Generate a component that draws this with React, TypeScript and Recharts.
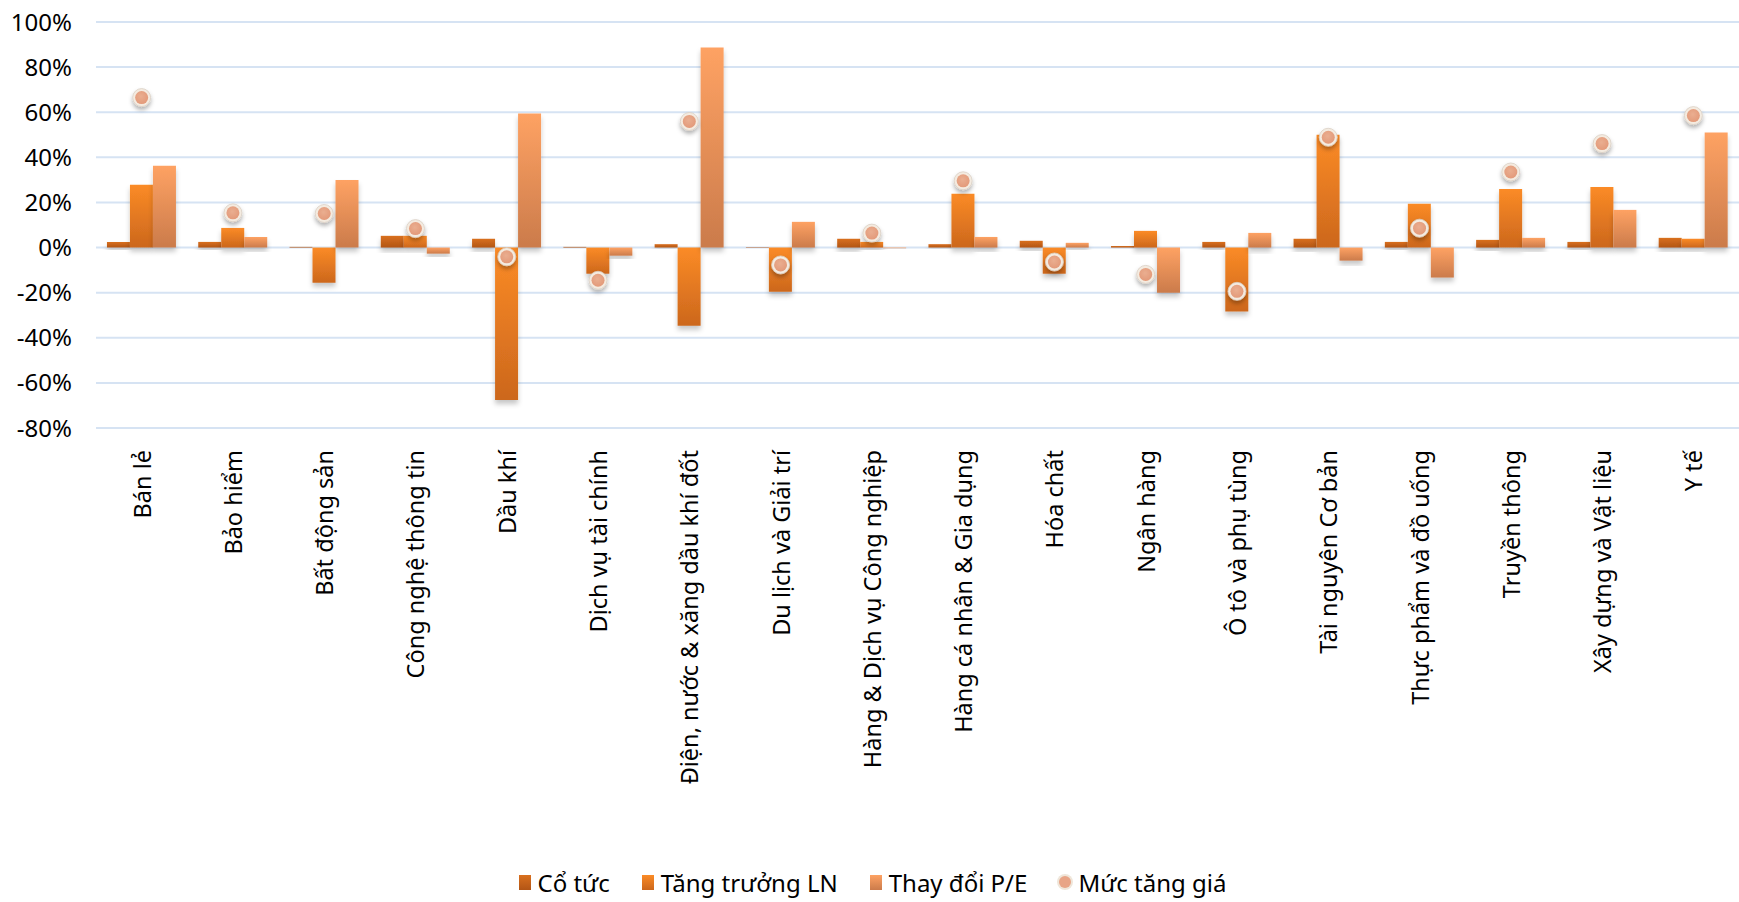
import React from 'react';
import {
  ComposedChart,
  Bar,
  Line,
  XAxis,
  YAxis,
  CartesianGrid,
  Legend,
} from 'recharts';

const sectors = [
  'Bán lẻ',
  'Bảo hiểm',
  'Bất động sản',
  'Công nghệ thông tin',
  'Dầu khí',
  'Dịch vụ tài chính',
  'Điện, nước & xăng dầu khí đốt',
  'Du lịch và Giải trí',
  'Hàng & Dịch vụ Công nghiệp',
  'Hàng cá nhân & Gia dụng',
  'Hóa chất',
  'Ngân hàng',
  'Ô tô và phụ tùng',
  'Tài nguyên Cơ bản',
  'Thực phẩm và đồ uống',
  'Truyền thông',
  'Xây dựng và Vật liệu',
  'Y tế',
];

const coTuc = [2.5, 2.5, 0.3, 5.2, 3.9, 0.3, 1.5, 0.2, 3.9, 1.5, 3.0, 0.7, 2.5, 3.9, 2.5, 3.4, 2.5, 4.3];
const tangTruongLN = [27.9, 8.7, -15.6, 5.2, -67.6, -11.6, -34.7, -19.6, 2.5, 23.9, -11.6, 7.4, -28.4, 50.0, 19.4, 26.0, 26.9, 3.9];
const thayDoiPE = [36.3, 4.7, 30.0, -2.7, 59.4, -3.6, 88.7, 11.4, -0.3, 4.7, 2.1, -20.0, 6.5, -5.8, -13.3, 4.3, 16.7, 51.0];
const mucTangGia = [66.5, 15.4, 15.1, 8.4, -4.1, -14.5, 55.9, -7.7, 6.4, 29.6, -6.4, -11.9, -19.4, 48.9, 8.6, 33.5, 46.1, 58.5];

const yTicks = [-80, -60, -40, -20, 0, 20, 40, 60, 80, 100];

const data = sectors.map((name, i) => ({
  name,
  coTuc: coTuc[i],
  tangTruong: tangTruongLN[i],
  pe: thayDoiPE[i],
  gia: mucTangGia[i],
}));

const FONT = '"Noto Sans", sans-serif';

const SectorTick = ({ x, y, payload }: any) => (
  <text
    x={x}
    y={y}
    transform={`rotate(-90, ${x}, ${y})`}
    textAnchor="end"
    dominantBaseline="central"
    fontSize={23.5}
    fontFamily={FONT}
    fill="#000"
  >
    {payload.value}
  </text>
);

const PriceDot = ({ cx, cy, index }: any) => {
  if (cx == null || cy == null) return null;
  return (
    <g key={`dot-${index}`} filter="url(#dotShadow)">
      <circle cx={cx} cy={cy} r={9} fill="#f4ebe0" stroke="#d9cfc4" strokeWidth={0.8} />
      <circle cx={cx} cy={cy} r={6.5} fill="url(#dotFill)" />
    </g>
  );
};

const legendItems = [
  { label: 'Cổ tức', top: '#d9701e', bottom: '#b25516', kind: 'rect' },
  { label: 'Tăng trưởng LN', top: '#fb8b26', bottom: '#cc671d', kind: 'rect' },
  { label: 'Thay đổi P/E', top: '#fea263', bottom: '#cb7b4b', kind: 'rect' },
  { label: 'Mức tăng giá', top: '#e8a486', bottom: '#e8a486', kind: 'dot' },
];

const CustomLegend = () => (
  <div
    style={{
      display: 'flex',
      justifyContent: 'center',
      alignItems: 'center',
      gap: 30,
      height: 40,
      fontFamily: FONT,
      fontSize: 24,
      color: '#000',
      paddingLeft: 4,
    }}
  >
    {legendItems.map((it, i) => (
      <div key={it.label} style={{ display: 'flex', alignItems: 'center' }}>
        <svg width={16} height={18} style={{ marginRight: 5 }}>
          <defs>
            <linearGradient id={`legGrad${i}`} x1="0" y1="0" x2="0" y2="1">
              <stop offset="0%" stopColor={it.top} />
              <stop offset="100%" stopColor={it.bottom} />
            </linearGradient>
          </defs>
          {it.kind === 'rect' ? (
            <rect x={2} y={2} width={12} height={15} fill={`url(#legGrad${i})`} />
          ) : (
            <>
              <circle cx={8} cy={9} r={8} fill="#efe6da" />
              <circle cx={8} cy={9} r={6} fill="#e8a486" />
            </>
          )}
        </svg>
        <span>{it.label}</span>
      </div>
    ))}
  </div>
);

export default function App() {
  return (
    <div style={{ position: 'absolute', left: 0, top: 0, width: 1739, height: 902, background: '#fff' }}>
      <ComposedChart
        width={1739}
        height={902}
        data={data}
        margin={{ top: 22, right: 0, left: 0, bottom: 0 }}
        barCategoryGap="12%"
        barGap={0}
      >
        <defs>
          <linearGradient id="gCoTuc" x1="0" y1="0" x2="0" y2="1">
            <stop offset="0%" stopColor="#d9701e" />
            <stop offset="100%" stopColor="#b25516" />
          </linearGradient>
          <linearGradient id="gTang" x1="0" y1="0" x2="0" y2="1">
            <stop offset="0%" stopColor="#fb8b26" />
            <stop offset="100%" stopColor="#cc671d" />
          </linearGradient>
          <linearGradient id="gPE" x1="0" y1="0" x2="0" y2="1">
            <stop offset="0%" stopColor="#fea263" />
            <stop offset="100%" stopColor="#cb7b4b" />
          </linearGradient>
          <radialGradient id="dotFill" cx="0.45" cy="0.4" r="0.6">
            <stop offset="0%" stopColor="#eaae90" />
            <stop offset="100%" stopColor="#e39a7a" />
          </radialGradient>
          <filter id="barShadow" x="-20%" y="-20%" width="140%" height="160%">
            <feDropShadow dx="0" dy="4" stdDeviation="2.5" floodColor="#000" floodOpacity="0.22" />
          </filter>
          <filter id="dotShadow" x="-50%" y="-50%" width="200%" height="220%">
            <feDropShadow dx="0" dy="3" stdDeviation="2" floodColor="#000" floodOpacity="0.3" />
          </filter>
        </defs>
        <CartesianGrid vertical={false} stroke="#d6e3f3" strokeWidth={2} />
        <XAxis
          dataKey="name"
          interval={0}
          axisLine={false}
          tickLine={false}
          tickSize={0}
          tickMargin={22}
          height={434}
          tick={<SectorTick />}
        />
        <YAxis
          domain={[-80, 100]}
          ticks={yTicks}
          width={96}
          axisLine={false}
          tickLine={false}
          tickSize={0}
          tickMargin={24}
          tickFormatter={(v) => `${v}%`}
          tick={{ fontSize: 24, fontFamily: FONT, fill: '#000' }}
        />
        <Legend verticalAlign="bottom" content={<CustomLegend />} />
        <Bar dataKey="coTuc" name="Cổ tức" fill="url(#gCoTuc)" filter="url(#barShadow)" isAnimationActive={false} />
        <Bar dataKey="tangTruong" name="Tăng trưởng LN" fill="url(#gTang)" filter="url(#barShadow)" isAnimationActive={false} />
        <Bar dataKey="pe" name="Thay đổi P/E" fill="url(#gPE)" filter="url(#barShadow)" isAnimationActive={false} />
        <Line
          dataKey="gia"
          name="Mức tăng giá"
          stroke="none"
          strokeWidth={0}
          dot={<PriceDot />}
          activeDot={false}
          isAnimationActive={false}
        />
      </ComposedChart>
    </div>
  );
}
